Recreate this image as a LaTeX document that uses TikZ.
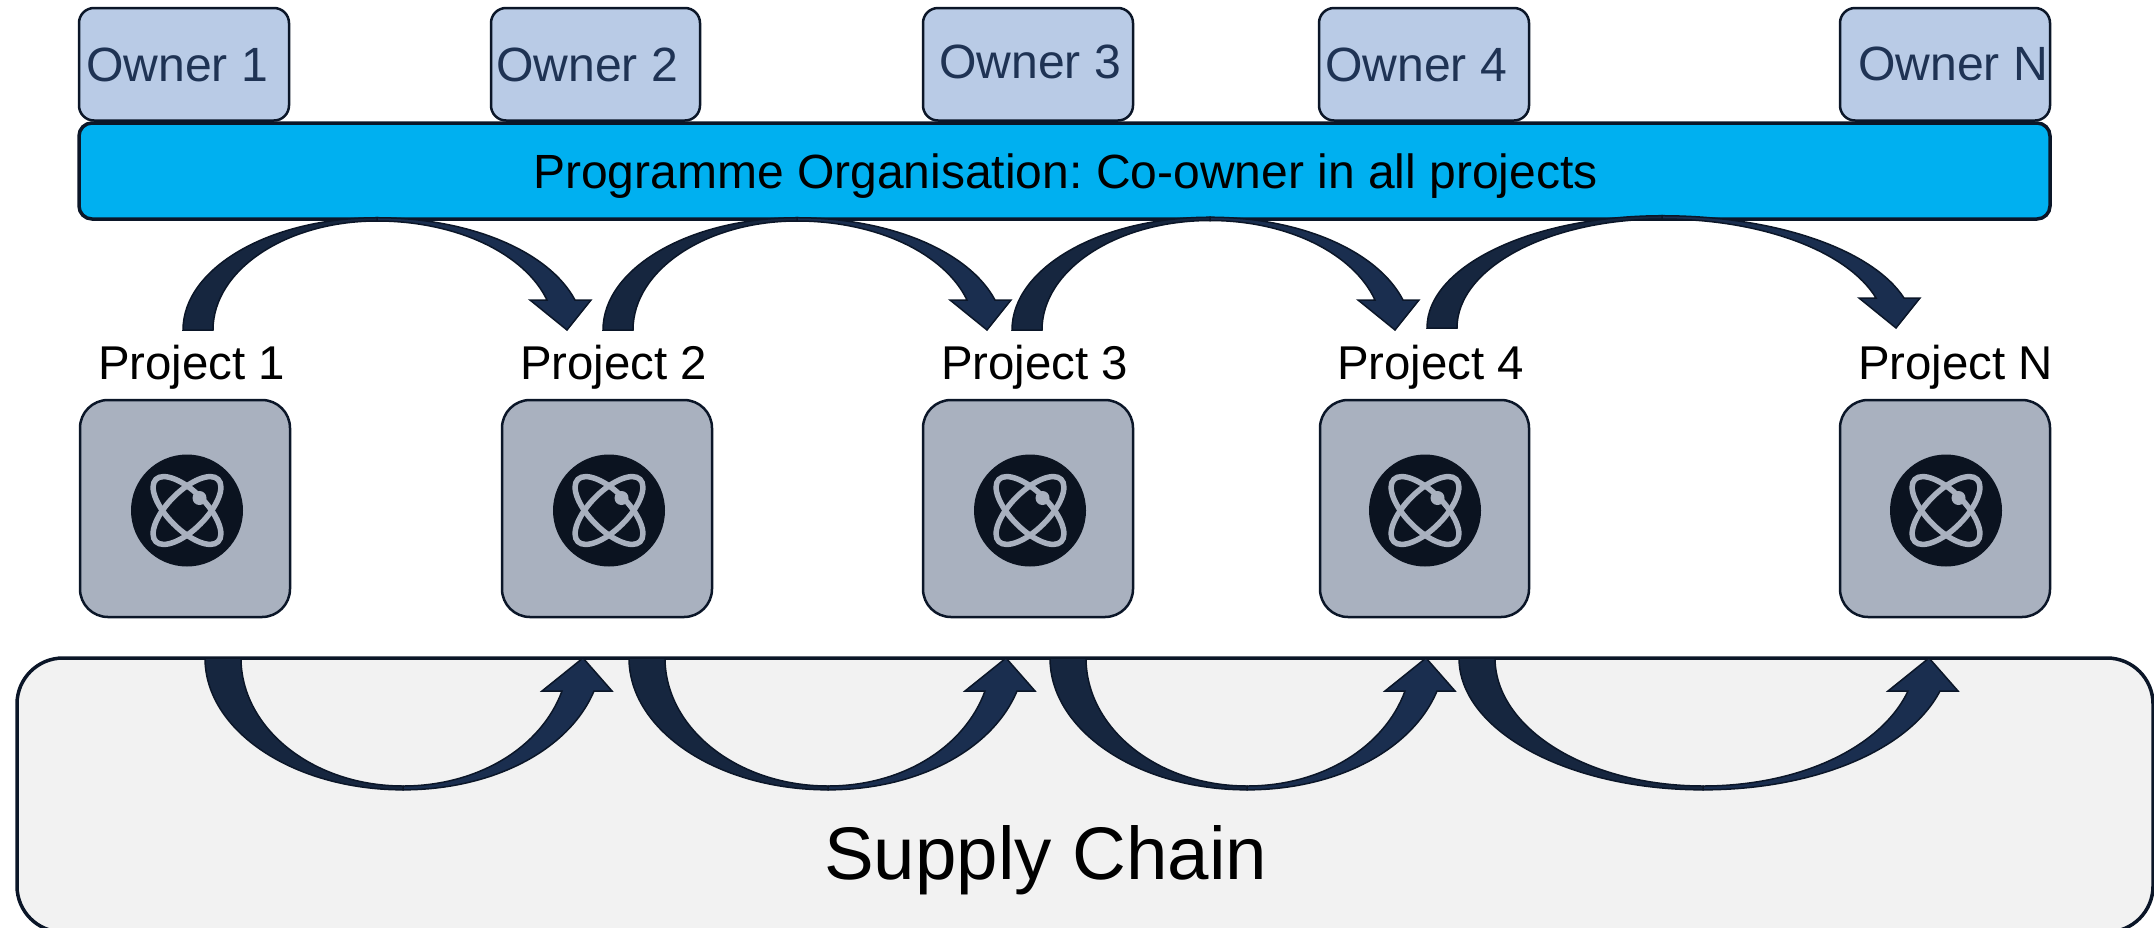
\documentclass[tikz,border=0pt]{standalone}
\usepackage{fontspec}
\setmainfont{Liberation Sans}
\frenchspacing
\definecolor{linec}{HTML}{0B1628}
\definecolor{ownerf}{HTML}{B9CBE6}
\definecolor{ownert}{HTML}{1F3354}
\definecolor{progf}{HTML}{00B0F0}
\definecolor{projf}{HTML}{A9B1BF}
\definecolor{darkc}{HTML}{0B1320}
\definecolor{supf}{HTML}{F2F2F2}
\definecolor{arrowf}{HTML}{1A2E4F}
\definecolor{arrowg}{HTML}{16263F}
\tikzset{
  x=1pt,y=-1pt,
  ownerbox/.style={draw=linec,line width=2.5pt,fill=ownerf,rounded corners=15pt},
  progbox/.style={draw=linec,line width=3.5pt,fill=progf,rounded corners=13pt},
  projbox/.style={draw=linec,line width=2.5pt,fill=projf,rounded corners=28pt},
  supbox/.style={draw=linec,line width=3.5pt,fill=supf,rounded corners=46pt},
  owntext/.style={anchor=base west,inner sep=0pt,text=ownert,font=\fontsize{48.1}{50}\selectfont},
  blktext/.style={anchor=base west,inner sep=0pt,text=black,font=\fontsize{47.4}{50}\selectfont},
  progtext/.style={anchor=base west,inner sep=0pt,text=black,font=\fontsize{48}{50}\selectfont},
  blockarrow/.style={draw=linec,line width=1.5pt,line join=miter},
  atomline/.style={draw=projf,line width=5.5pt},
}
% curved block arrow: #1 base left x, #2 base width, #3 apex x, #4 inner apex y,
% #5 tip x, #6 tip/base y, #7 head height (signed, towards the apex),
% #8 head left, #9 shaft left, then shaft right, head right (offsets from the tip)
\newcommand{\blockarc}[9]{\def\aA{#1}\def\aB{#2}\def\aC{#3}\def\aD{#4}\def\aE{#5}\def\aF{#6}\def\aG{#7}\def\aH{#8}\def\aI{#9}\blockarcB}
\newcommand{\blockarcB}[2]{%
  \pgfmathsetmacro{\xHl}{\aE+\aH}
  \pgfmathsetmacro{\xSl}{\aE+\aI}
  \pgfmathsetmacro{\xSr}{\aE+#1}
  \pgfmathsetmacro{\xHr}{\aE+#2}
  \pgfmathsetmacro{\yH}{\aF+\aG}
  \pgfmathsetmacro{\aO}{(\xSr-\aC)/.961}
  \pgfmathsetmacro{\aN}{(\xSl-\aC)/.961}
  \pgfmathsetmacro{\bb}{\aF-\aD}
  \pgfmathsetmacro{\yO}{\aD-.03*\bb}
  \pgfmathsetmacro{\bO}{\aF-\yO}
  \pgfmathsetmacro{\yC}{\aF-.699*\bb}
  \pgfmathsetmacro{\yD}{\aF-.699*\bO}
  \pgfmathsetmacro{\cO}{\aC-\aA}
  \pgfmathsetmacro{\cN}{\cO-\aB}
  \pgfmathsetmacro{\yL}{\aF-.5523*\bb}
  \pgfmathsetmacro{\yM}{\aF-.5523*\bO}
  \fill[arrowf,blockarrow] (\aC,\yO)
     .. controls ({\aC+.4529*\aO},\yO) and ({\aC+.8354*\aO},\yD) .. (\xSr,\yH)
     -- (\xHr,\yH) -- (\aE,\aF) -- (\xHl,\yH) -- (\xSl,\yH)
     .. controls ({\aC+.8354*\aN},\yC) and ({\aC+.4529*\aN},\aD) .. (\aC,\aD) -- cycle;
  \fill[arrowg,blockarrow] (\aA,\aF)
     .. controls (\aA,\yM) and ({\aC-.5523*\cO},\yO) .. (\aC,\yO)
     -- (\aC,\aD)
     .. controls ({\aC-.5523*\cN},\aD) and ({\aA+\aB},\yL) .. ({\aA+\aB},\aF) -- cycle;
}
\newcommand{\toparrow}[6]{\blockarc{#1}{#2}{#3}{#4}{#5}{#6}{-30}{-37}{-20}{8}{24}}
\newcommand{\botarrow}[4]{\blockarc{#1}{36}{#2}{786}{#3}{#4}{33}{-41}{-21}{11}{29}}
\newcommand{\atomicon}[1]{%
\begin{scope}[shift={(#1,510.5)}]
  \fill[darkc] (0,0) circle[radius=56];
  \draw[atomline,rotate=45] (0,0) ellipse[x radius=44,y radius=19];
  \draw[atomline,rotate=-45] (0,0) ellipse[x radius=44,y radius=19];
  \fill[projf] (12.5,-12.5) circle[radius=7];
\end{scope}}
\begin{document}
\begin{tikzpicture}
\useasboundingbox (0,0) rectangle (2154,927);
% supply chain
\begin{scope}
\clip (0,0) rectangle (2154,927);
\draw[supbox] (17,658) rectangle (2153,932);
\end{scope}
\node[inner sep=0pt,anchor=base west,font=\fontsize{74.5}{80}\selectfont] (sup) at (824,879) {Supply Chain};
% owners
\draw[ownerbox] (79,8) rectangle (289,120.5);
\draw[ownerbox] (491,8) rectangle (700,120.5);
\draw[ownerbox] (923,8) rectangle (1133,120.5);
\draw[ownerbox] (1319,8) rectangle (1529,120.5);
\draw[ownerbox] (1840,8) rectangle (2050,120.5);
\node[owntext] (o1) at (86,81) {Owner 1};
\node[owntext] (o2) at (496,81) {Owner 2};
\node[owntext] (o3) at (939,78) {Owner 3};
\node[owntext] (o4) at (1325,81) {Owner 4};
\node[owntext] (oN) at (1858,80) {Owner N};
% programme
\draw[progbox] (79,123) rectangle (2050,219);
\node[progtext] (prog) at (533,188) {Programme Organisation: Co-owner in all projects};
% top arrows
\toparrow{183}{30}{377}{221}{567}{330}
\toparrow{603}{30}{797}{221}{987}{330}
\toparrow{1012}{30}{1210}{220.5}{1395}{330}
\toparrow{1427}{30}{1662}{219}{1896}{328}
% project labels
\node[blktext] (p1) at (98,379) {Project 1};
\node[blktext] (p2) at (520,379) {Project 2};
\node[blktext] (p3) at (941,379) {Project 3};
\node[blktext] (p4) at (1337,379) {Project 4};
\node[blktext] (pN) at (1858,379) {Project N};
% project boxes
\draw[projbox] (80,400) rectangle (290,617);
\draw[projbox] (502,400) rectangle (712,617);
\draw[projbox] (923,400) rectangle (1133,617);
\draw[projbox] (1320,400) rectangle (1529,617);
\draw[projbox] (1840,400) rectangle (2050,617);
\atomicon{187}
\atomicon{609}
\atomicon{1030}
\atomicon{1425}
\atomicon{1946}
% bottom arrows
\botarrow{205}{403}{583}{658}
\botarrow{629}{828}{1006}{658}
\botarrow{1050}{1247}{1426}{658}
\botarrow{1459}{1703}{1929}{658}
\end{tikzpicture}
\end{document}
